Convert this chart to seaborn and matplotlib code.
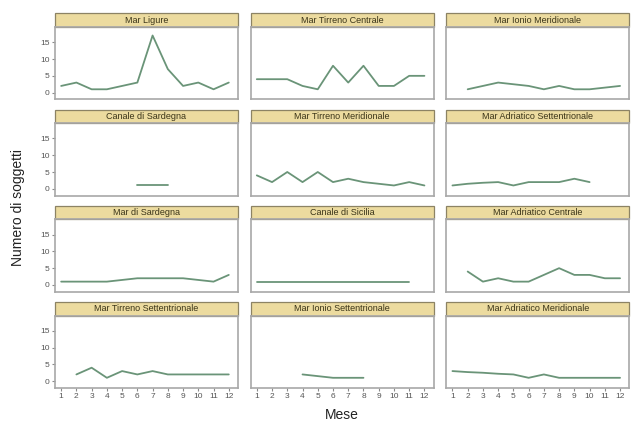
import numpy as np
import pandas as pd
import matplotlib
matplotlib.use("Agg")
import matplotlib.pyplot as plt
import seaborn as sns
from matplotlib.patches import Rectangle

sns.set_theme(style="white")
plt.rcParams['font.family'] = ['Liberation Sans', 'DejaVu Sans']

nan = np.nan
mesi = list(range(1, 13))

regioni = [
    "Mar Ligure", "Mar Tirreno Centrale", "Mar Ionio Meridionale",
    "Canale di Sardegna", "Mar Tirreno Meridionale", "Mar Adriatico Settentrionale",
    "Mar di Sardegna", "Canale di Sicilia", "Mar Adriatico Centrale",
    "Mar Tirreno Settentrionale", "Mar Ionio Settentrionale", "Mar Adriatico Meridionale",
]

# numero di soggetti per mese (nan = nessun dato)
mar_ligure = [2, 3, 1, 1, 2, 3, 17, 7, 2, 3, 1, 3]
mar_tirreno_centrale = [4, 4, 4, 2, 1, 8, 3, 8, 2, 2, 5, 5]
mar_ionio_meridionale = [nan, 1, 2, 3, 2.5, 2, 1, 2, 1, 1, 1.5, 2]
canale_sardegna = [nan, nan, nan, nan, nan, 1, 1, 1, nan, nan, nan, nan]
mar_tirreno_meridionale = [4, 2, 5, 2, 5, 2, 3, 2, 1.5, 1, 2, 1]
mar_adriatico_settentrionale = [1, 1.5, 1.8, 2, 1, 2, 2, 2, 3, 2, nan, nan]
mar_di_sardegna = [1, 1, 1, 1, 1.5, 2, 2, 2, 2, 1.5, 1, 3]
canale_sicilia = [1, 1, 1, 1, 1, 1, 1, 1, 1, 1, 1, nan]
mar_adriatico_centrale = [nan, 4, 1, 2, 1, 1, 3, 5, 3, 3, 2, 2]
mar_tirreno_settentrionale = [nan, 2, 4, 1, 3, 2, 3, 2, 2, 2, 2, 2]
mar_ionio_settentrionale = [nan, nan, nan, 2, 1.5, 1, 1, 1, nan, nan, nan, nan]
mar_adriatico_meridionale = [3, 2.7, 2.5, 2.2, 2, 1, 2, 1, 1, 1, 1, 1]

serie = [
    mar_ligure, mar_tirreno_centrale, mar_ionio_meridionale,
    canale_sardegna, mar_tirreno_meridionale, mar_adriatico_settentrionale,
    mar_di_sardegna, canale_sicilia, mar_adriatico_centrale,
    mar_tirreno_settentrionale, mar_ionio_settentrionale, mar_adriatico_meridionale,
]

rows = []
for reg, vals in zip(regioni, serie):
    for m, v in zip(mesi, vals):
        rows.append({"Regione": reg, "Mese": m, "Numero": v})
df = pd.DataFrame(rows).dropna()
df["Regione"] = pd.Categorical(df["Regione"], categories=regioni, ordered=True)

g = sns.relplot(data=df, x="Mese", y="Numero", col="Regione", col_wrap=3,
                kind="line", color="#6a9478", linewidth=1.3,
                col_order=regioni, height=1.2, aspect=2.0,
                facet_kws={"sharex": True, "sharey": True, "despine": False})

g.figure.set_size_inches(6.33, 4.23)
g.figure.subplots_adjust(left=0.087, right=0.994, top=0.936, bottom=0.083,
                         wspace=0.07, hspace=0.33)

strip_h = 0.19
for i, (ax, reg) in enumerate(zip(g.axes.flat, regioni)):
    riga, col = divmod(i, 3)
    ax.set_title("")
    ax.set_xlim(0.6, 12.6)
    ax.set_ylim(-2, 19.5)
    ax.set_xticks(mesi)
    ax.set_yticks([0, 5, 10, 15])
    ax.set_xlabel("")
    ax.set_ylabel("")
    for s in ax.spines.values():
        s.set_visible(True)
        s.set_color("#a8a8a8")
        s.set_linewidth(1.2)
    ax.tick_params(axis="both", which="both", length=2.5, width=0.8,
                   color="#8a8a8a", labelsize=6, labelcolor="#555555", pad=1.5)
    ax.tick_params(axis="y", left=(col == 0), labelleft=(col == 0))
    ax.tick_params(axis="x", bottom=(riga == 3), labelbottom=(riga == 3))
    ax.add_patch(Rectangle((0, 1), 1, strip_h, transform=ax.transAxes,
                           clip_on=False, facecolor="#ecdb9f",
                           edgecolor="#8c8364", linewidth=0.9))
    ax.text(0.5, 1 + strip_h / 2, reg, transform=ax.transAxes,
            ha="center", va="center", fontsize=6.5, color="#3a3418")

g.figure.text(0.028, 0.51, "Numero di soggetti", rotation=90,
              ha="center", va="center", fontsize=10, color="#222222")
g.figure.text(0.54, 0.018, "Mese", ha="center", va="center",
              fontsize=10, color="#222222")

g.figure.savefig("out.png", dpi=100)
